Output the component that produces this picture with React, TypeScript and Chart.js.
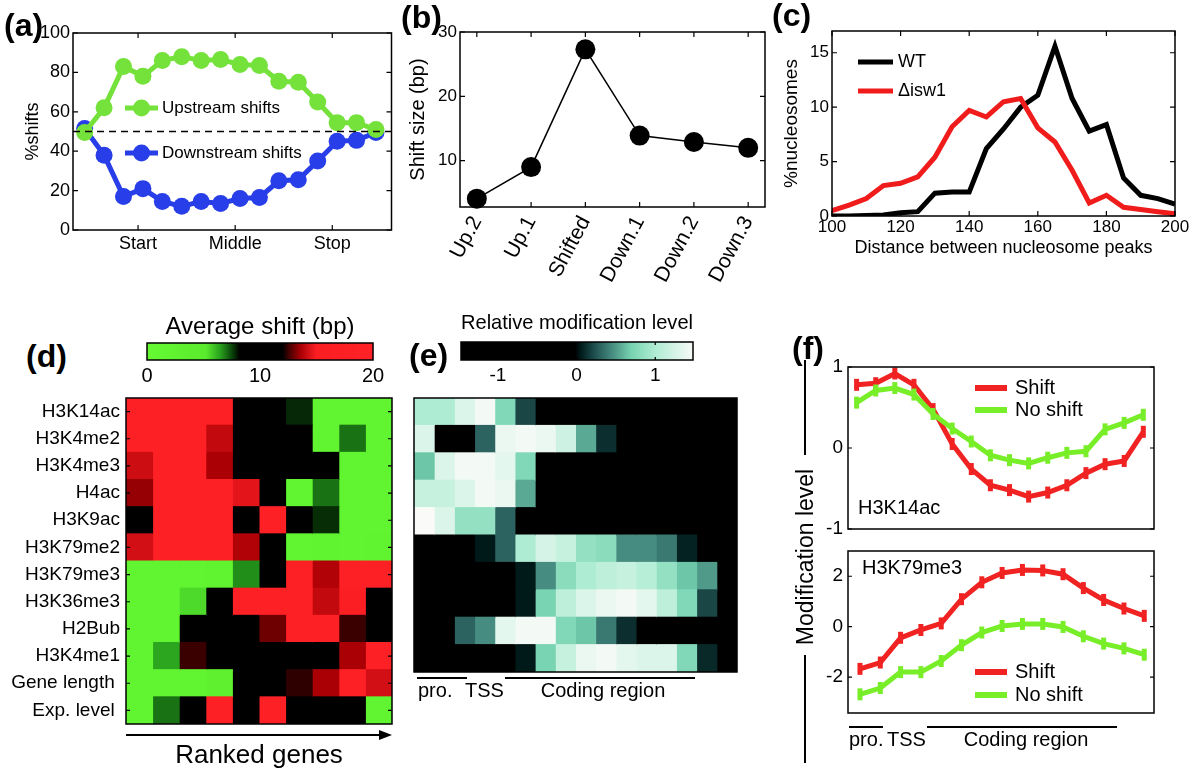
import React, { useEffect, useRef } from "react";
import { Chart, registerables } from "chart.js";

Chart.register(...registerables);

const FONT = '"Liberation Sans", Arial, Helvetica, sans-serif';
Chart.defaults.font.family = FONT;
Chart.defaults.color = "#000";

// ================= DATA =================
// (a) % shifts along the gene
const aBins = [1, 2, 3, 4, 5, 6, 7, 8, 9, 10, 11, 12, 13, 14, 15, 16];
const aUpstream = [49.5, 62, 83, 78, 86, 88, 86, 86.5, 84, 83.5, 75.5, 75, 65, 54.5, 54.5, 51];
const aDownstream = [51.5, 38, 17, 21, 14.5, 12, 14.5, 13.5, 16, 16.5, 25, 25.5, 35, 45, 45.5, 49.5];
const aTickLabels = ["Start", "Middle", "Stop"];
const aTickPositions = [3.75, 8.75, 13.75];
const aYTicks = [0, 20, 40, 60, 80, 100];
const aReference = 50;

// (b) shift size
const bCategories = ["Up.2", "Up.1", "Shifted", "Down.1", "Down.2", "Down.3"];
const bShiftSize = [4.1, 9, 27.3, 13.9, 12.9, 12.0];
const bYTicks = [10, 20, 30];

// (c) distance between nucleosome peaks
const cDistance = [100, 105, 110, 115, 120, 125, 130, 135, 140, 145, 150, 155, 160, 165, 170, 175, 180, 185, 190, 195, 200];
const cWT = [0, 0, 0.05, 0.1, 0.3, 0.4, 2.1, 2.2, 2.2, 6.2, 8.0, 10.0, 11.1, 15.6, 10.8, 7.8, 8.4, 3.5, 1.9, 1.6, 1.1];
const cIsw1 = [0.5, 1.0, 1.6, 2.8, 3.0, 3.6, 5.4, 8.2, 9.7, 9.1, 10.5, 10.8, 8.1, 6.8, 4.2, 1.2, 1.9, 0.8, 0.6, 0.4, 0.2];
const cXTicks = [100, 120, 140, 160, 180, 200];
const cYTicks = [0, 5, 10, 15];

// (d) average shift heatmap
const dMarks = ["H3K14ac", "H3K4me2", "H3K4me3", "H4ac", "H3K9ac", "H3K79me2", "H3K79me3", "H3K36me3", "H2Bub", "H3K4me1", "Gene length ", "Exp. level "];
const dRankBins = [0, 1, 2, 3, 4, 5, 6, 7, 8, 9];
const dShift = [
  [18, 18, 18, 18, 10, 10, 7.8, 2, 2, 2],
  [18, 18, 18, 14, 10, 10, 10, 2, 7.0, 2],
  [14.2, 18, 18, 13.6, 10, 10, 10, 10, 2, 2],
  [13.4, 18, 18, 18, 14.6, 10, 2, 7.0, 2, 2],
  [10, 18, 18, 18, 10, 18, 10, 7.75, 2, 2],
  [14.3, 18, 18, 18, 13.7, 10, 2, 2.5, 2, 2.5],
  [2, 2, 2, 2.5, 6.7, 10, 18, 13.7, 18, 18],
  [2, 2, 5.5, 10, 18, 18, 18, 14, 16, 10],
  [2, 2, 10, 10, 10, 13.0, 18, 18, 12.5, 10],
  [2, 6.4, 12.5, 10, 10, 10, 10, 10, 13.6, 18],
  [2, 2, 2, 3, 10, 10, 12.4, 13.6, 18, 14.3],
  [2, 7.0, 10, 18, 10, 18, 10, 10, 10, 2],
];
const dColorTicks = [0, 10, 20];

// (e) relative modification level heatmap
const eColumns = [0, 1, 2, 3, 4, 5, 6, 7, 8, 9, 10, 11, 12, 13, 14, 15];
const eRows = [1, 2, 3, 4, 5, 6, 7, 8, 9, 10];
const eLevels = [
  [1.0, 1.0, 1.3, 1.45, 0.75, 0.2, -1, -1, -1, -1, -1, -1, -1, -1, -1, -1],
  [1.3, -1, -1, 0.3, 1.4, 1.45, 1.4, 1.2, 0.55, 0.12, -1, -1, -1, -1, -1, -1],
  [0.65, 1.3, 1.45, 1.45, 1.35, 0.75, -1, -1, -1, -1, -1, -1, -1, -1, -1, -1],
  [1.15, 1.15, 1.3, 1.45, 1.4, 0.55, -1, -1, -1, -1, -1, -1, -1, -1, -1, -1],
  [1.5, 1.3, 0.85, 0.85, 0.3, -1, -1, -1, -1, -1, -1, -1, -1, -1, -1, -1],
  [-1, -1, -1, 0.05, 0.3, 1.0, 1.25, 1.15, 0.85, 0.8, 0.45, 0.45, 0.38, 0.08, -1, -1],
  [-1, -1, -1, -1, -1, 0.05, 0.45, 0.8, 1.0, 1.1, 1.15, 1.05, 0.85, 0.65, 0.5, -1],
  [-1, -1, -1, -1, -1, 0.05, 0.7, 1.1, 1.3, 1.4, 1.45, 1.35, 1.1, 0.75, 0.2, -1],
  [-1, -1, 0.3, 0.45, 1.35, 1.45, 1.45, 0.75, 0.65, 0.38, 0.12, -1, -1, -1, -1, -1],
  [-1, -1, -1, -1, -1, 0.05, 0.7, 1.15, 1.4, 1.45, 1.35, 1.3, 1.3, 0.75, 0.1, -1],
];
const eColorTicks = [-1, 0, 1];

// (f) modification level profiles
const fTopBins = [0, 1, 2, 3, 4, 5, 6, 7, 8, 9, 10, 11, 12, 13, 14, 15];
const fTopShift = [0.78, 0.8, 0.92, 0.78, 0.48, 0.05, -0.26, -0.46, -0.52, -0.6, -0.55, -0.46, -0.31, -0.2, -0.16, 0.2];
const fTopNoShift = [0.56, 0.71, 0.74, 0.66, 0.42, 0.24, 0.08, -0.09, -0.15, -0.19, -0.12, -0.06, -0.04, 0.23, 0.31, 0.41];
const fTopYTicks = [-1, 0, 1];
const fBotBins = [0, 1, 2, 3, 4, 5, 6, 7, 8, 9, 10, 11, 12, 13, 14];
const fBotShift = [-1.67, -1.42, -0.44, -0.13, 0.13, 1.09, 1.76, 2.13, 2.25, 2.23, 2.08, 1.53, 1.06, 0.72, 0.43];
const fBotNoShift = [-2.68, -2.43, -1.8, -1.8, -1.36, -0.73, -0.23, 0.03, 0.11, 0.11, -0.01, -0.38, -0.67, -0.86, -1.11];
const fBotYTicks = [-2, 0, 2];

// ================= STYLES =================
const GREEN_A = "rgb(116,226,58)";
const BLUE_A = "rgb(40,62,232)";
const RED_C = "rgb(240,28,28)";
const RED_F = "rgb(240,34,34)";
const GREEN_F = "rgb(120,238,40)";

type Rgb = [number, number, number];
const dStops: [number, Rgb][] = [
  [0, [102, 250, 51]],
  [5.2, [90, 235, 45]],
  [6.5, [40, 160, 30]],
  [7.5, [10, 70, 10]],
  [8.2, [0, 0, 0]],
  [12.0, [0, 0, 0]],
  [12.6, [70, 0, 0]],
  [13.6, [170, 0, 5]],
  [15.0, [250, 30, 35]],
  [20, [255, 35, 40]],
];
const eStops: [number, Rgb][] = [
  [-1.5, [0, 0, 0]],
  [-0.02, [0, 0, 0]],
  [0.05, [0, 25, 25]],
  [0.25, [35, 85, 85]],
  [0.45, [70, 140, 128]],
  [0.7, [120, 212, 178]],
  [1.0, [175, 236, 212]],
  [1.5, [250, 251, 249]],
];

function interpColor(stops: [number, Rgb][], v: number): string {
  const f = (c: Rgb) => `rgb(${Math.round(c[0])},${Math.round(c[1])},${Math.round(c[2])})`;
  if (v <= stops[0][0]) return f(stops[0][1]);
  for (let i = 1; i < stops.length; i++) {
    const [v1, c1] = stops[i];
    const [v0, c0] = stops[i - 1];
    if (v <= v1) {
      const t = (v - v0) / (v1 - v0);
      return f([c0[0] + (c1[0] - c0[0]) * t, c0[1] + (c1[1] - c0[1]) * t, c0[2] + (c1[2] - c0[2]) * t]);
    }
  }
  return f(stops[stops.length - 1][1]);
}
const colorD = (v: number) => interpColor(dStops, v);
const colorE = (v: number) => interpColor(eStops, v);

// ================= PLUGINS =================
function makeFrame(cfg: { xTicks?: boolean; yTicks?: boolean; len?: number; width?: number }) {
  return {
    id: "frame",
    afterDatasetsDraw(chart: any) {
      const { ctx, chartArea: a } = chart;
      const len = cfg.len ?? 5;
      ctx.save();
      ctx.strokeStyle = "#000";
      ctx.lineWidth = cfg.width ?? 1.5;
      ctx.strokeRect(a.left, a.top, a.right - a.left, a.bottom - a.top);
      ctx.lineWidth = 1.2;
      ctx.beginPath();
      if (cfg.xTicks) {
        const s = chart.scales.x;
        s.ticks.forEach((_t: any, i: number) => {
          const p = s.getPixelForTick(i);
          ctx.moveTo(p, a.bottom);
          ctx.lineTo(p, a.bottom - len);
          ctx.moveTo(p, a.top);
          ctx.lineTo(p, a.top + len);
        });
      }
      if (cfg.yTicks) {
        const s = chart.scales.y;
        s.ticks.forEach((_t: any, i: number) => {
          const p = s.getPixelForTick(i);
          ctx.moveTo(a.left, p);
          ctx.lineTo(a.left + len, p);
          ctx.moveTo(a.right, p);
          ctx.lineTo(a.right - len, p);
        });
      }
      ctx.stroke();
      ctx.restore();
    },
  };
}

type Decor = {
  lines?: { x1: number; y1: number; x2: number; y2: number; width?: number; arrow?: number }[];
  texts?: { text: string; x: number; y: number; size: number; align?: CanvasTextAlign }[];
  legend?: { idx: number[]; x: number; y: number; dy: number; len: number; gap: number; size: number; lineWidth: number; radius?: number };
  refLine?: { value: number };
};

function makeDecor(cfg: Decor) {
  return {
    id: "decor",
    afterDraw(chart: any) {
      const { ctx, chartArea: a } = chart;
      ctx.save();
      if (cfg.refLine) {
        const py = chart.scales.y.getPixelForValue(cfg.refLine.value);
        ctx.strokeStyle = "#000";
        ctx.lineWidth = 1.5;
        ctx.setLineDash([7, 5]);
        ctx.beginPath();
        ctx.moveTo(a.left, py);
        ctx.lineTo(a.right, py);
        ctx.stroke();
        ctx.setLineDash([]);
      }
      (cfg.lines || []).forEach((l) => {
        ctx.strokeStyle = "#000";
        ctx.lineWidth = l.width ?? 1.5;
        ctx.beginPath();
        ctx.moveTo(a.left + l.x1, a.top + l.y1);
        ctx.lineTo(a.left + l.x2 - (l.arrow ? l.arrow * 0.5 : 0), a.top + l.y2);
        ctx.stroke();
        if (l.arrow) {
          const tx = a.left + l.x2;
          const ty = a.top + l.y2;
          ctx.fillStyle = "#000";
          ctx.beginPath();
          ctx.moveTo(tx, ty);
          ctx.lineTo(tx - l.arrow, ty - l.arrow * 0.38);
          ctx.lineTo(tx - l.arrow, ty + l.arrow * 0.38);
          ctx.closePath();
          ctx.fill();
        }
      });
      (cfg.texts || []).forEach((t) => {
        ctx.font = `${t.size}px ${FONT}`;
        ctx.fillStyle = "#000";
        ctx.textAlign = t.align || "left";
        ctx.textBaseline = "middle";
        ctx.fillText(t.text, a.left + t.x, a.top + t.y);
      });
      const lg = cfg.legend;
      if (lg) {
        lg.idx.forEach((di, i) => {
          const ds = chart.data.datasets[di];
          const y = a.top + lg.y + i * lg.dy;
          const x0 = a.left + lg.x;
          const x1 = x0 + lg.len;
          ctx.strokeStyle = ds.borderColor;
          ctx.lineWidth = lg.lineWidth;
          ctx.lineCap = "butt";
          ctx.beginPath();
          ctx.moveTo(x0, y);
          ctx.lineTo(x1, y);
          ctx.stroke();
          if (lg.radius) {
            ctx.fillStyle = ds.borderColor;
            ctx.beginPath();
            ctx.arc((x0 + x1) / 2, y, lg.radius, 0, Math.PI * 2);
            ctx.fill();
          }
          ctx.font = `${lg.size}px ${FONT}`;
          ctx.fillStyle = "#000";
          ctx.textAlign = "left";
          ctx.textBaseline = "middle";
          ctx.fillText(ds.label, x1 + lg.gap, y);
        });
      }
      ctx.restore();
    },
  };
}

function makeColorbar(colorFn: (v: number) => string) {
  return {
    id: "colorbar",
    beforeDatasetsDraw(chart: any) {
      const { ctx, chartArea: a } = chart;
      const s = chart.scales.x;
      ctx.save();
      for (let px = Math.floor(a.left); px < Math.ceil(a.right); px++) {
        ctx.fillStyle = colorFn(s.getValueForPixel(px + 0.5));
        ctx.fillRect(px, a.top, 1.2, a.bottom - a.top);
      }
      ctx.restore();
    },
  };
}

// ================= SCALE HELPERS =================
function fixedY(width: number, min: number, max: number, ticks: number[] | null, size: number, pad: number, title?: { text: string; size: number; pad: number }) {
  return {
    type: "linear",
    min,
    max,
    grid: { display: false, drawTicks: false },
    border: { display: false },
    ticks: { font: { size }, padding: pad, color: "#000" },
    title: title
      ? { display: true, text: title.text, font: { size: title.size }, padding: { top: title.pad, bottom: 0 }, color: "#000" }
      : { display: false },
    afterBuildTicks: (s: any) => {
      if (ticks) s.ticks = ticks.map((v) => ({ value: v }));
    },
    afterFit: (s: any) => {
      s.width = width;
      s.paddingTop = 0;
      s.paddingBottom = 0;
      s.paddingLeft = 0;
      s.paddingRight = 0;
    },
  };
}

function fixedX(height: number, min: number, max: number, ticks: number[] | null, size: number, pad: number, extra: any = {}) {
  return {
    type: "linear",
    min,
    max,
    grid: { display: false, drawTicks: false },
    border: { display: false },
    ...extra,
    ticks: { font: { size }, padding: pad, color: "#000", autoSkip: false, ...(extra.ticks || {}) },
    afterBuildTicks: (s: any) => {
      if (ticks) s.ticks = ticks.map((v) => ({ value: v }));
    },
    afterFit: (s: any) => {
      s.height = height;
      s.paddingTop = 0;
      s.paddingBottom = 0;
      s.paddingLeft = 0;
      s.paddingRight = 0;
    },
  };
}

const baseOpts = {
  animation: false,
  responsive: false,
  maintainAspectRatio: false,
  events: [],
};
const noLegend = { legend: { display: false }, tooltip: { enabled: false }, title: { display: false } };

// ================= CHART CONFIGS =================
const makeA = () => ({
  type: "line",
  data: {
    datasets: [
      {
        label: "Upstream shifts",
        data: aBins.map((x, i) => ({ x, y: aUpstream[i] })),
        borderColor: GREEN_A,
        backgroundColor: GREEN_A,
        pointBackgroundColor: GREEN_A,
        borderWidth: 5,
        pointRadius: 8.5,
        pointBorderWidth: 0,
        order: 0,
        clip: false,
      },
      {
        label: "Downstream shifts",
        data: aBins.map((x, i) => ({ x, y: aDownstream[i] })),
        borderColor: BLUE_A,
        backgroundColor: BLUE_A,
        pointBackgroundColor: BLUE_A,
        borderWidth: 5,
        pointRadius: 8.5,
        pointBorderWidth: 0,
        order: 1,
        clip: false,
      },
    ],
  },
  options: {
    ...baseOpts,
    layout: { padding: { top: 33, right: 5, left: 0, bottom: 0 } },
    plugins: noLegend,
    scales: {
      x: fixedX(30, 0.4, 16.8, aTickPositions, 18, 3, { ticks: { callback: (_v: any, i: number) => aTickLabels[i], maxRotation: 0, minRotation: 0 } }),
      y: fixedY(73, 0, 100, aYTicks, 18, 3, { text: "%shifts", size: 18, pad: 22 }),
    },
  },
  plugins: [
    makeFrame({ xTicks: true, yTicks: true }),
    makeDecor({
      refLine: { value: aReference },
      legend: { idx: [0, 1], x: 52, y: 75, dy: 45, len: 33, gap: 4, size: 17, lineWidth: 5, radius: 8.5 },
    }),
  ],
});

const makeB = () => ({
  type: "line",
  data: {
    datasets: [
      {
        label: "Shift size (bp)",
        data: bCategories.map((_c, i) => ({ x: i, y: bShiftSize[i] })),
        borderColor: "#000",
        backgroundColor: "#000",
        pointBackgroundColor: "#000",
        borderWidth: 1.5,
        pointRadius: 10,
        pointBorderWidth: 0,
        clip: false,
      },
    ],
  },
  options: {
    ...baseOpts,
    layout: { padding: { top: 32, right: 15, left: 0, bottom: 0 } },
    plugins: noLegend,
    scales: {
      x: fixedX(93, -0.31, 5.31, bCategories.map((_c, i) => i), 21, 5, {
        ticks: { callback: (v: any) => bCategories[v as number], maxRotation: 62, minRotation: 62 },
      }),
      y: fixedY(80, 2.8, 30, bYTicks, 17, 3, { text: "Shift size (bp)", size: 20, pad: 26 }),
    },
  },
  plugins: [makeFrame({ xTicks: true, yTicks: true })],
});

const makeC = () => ({
  type: "line",
  data: {
    datasets: [
      {
        label: "WT",
        data: cDistance.map((x, i) => ({ x, y: cWT[i] })),
        borderColor: "#000",
        borderWidth: 5,
        pointRadius: 0,
        borderJoinStyle: "miter",
        order: 1,
      },
      {
        label: "\u0394isw1",
        data: cDistance.map((x, i) => ({ x, y: cIsw1[i] })),
        borderColor: RED_C,
        borderWidth: 5,
        pointRadius: 0,
        borderJoinStyle: "miter",
        order: 0,
      },
    ],
  },
  options: {
    ...baseOpts,
    layout: { padding: { top: 31, right: 25, left: 0, bottom: 0 } },
    plugins: noLegend,
    scales: {
      x: fixedX(84, 100, 200, cXTicks, 17, 1, {
        title: { display: true, text: "Distance between nucleosome peaks", font: { size: 18 }, padding: { top: 0, bottom: 41 }, color: "#000" },
      }),
      y: fixedY(72, 0, 17, cYTicks, 17, 3, { text: "%nucleosomes", size: 19, pad: 20 }),
    },
  },
  plugins: [
    makeFrame({ xTicks: true, yTicks: true }),
    makeDecor({ legend: { idx: [0, 1], x: 26, y: 31, dy: 29, len: 35, gap: 5, size: 18, lineWidth: 5 } }),
  ],
});

const makeDColorbar = () => ({
  type: "line",
  data: { datasets: [] },
  options: {
    ...baseOpts,
    layout: { padding: { top: 0, right: 27, left: 47, bottom: 0 } },
    plugins: {
      legend: { display: false },
      tooltip: { enabled: false },
      title: { display: true, text: "Average shift (bp)", font: { size: 24, weight: "normal" }, padding: { top: 7.6, bottom: 1.6 }, color: "#000" },
    },
    scales: {
      x: fixedX(30, 0, 20, dColorTicks, 20, 4),
      y: { display: false, min: 0, max: 1 },
    },
  },
  plugins: [makeColorbar(colorD), makeFrame({ xTicks: false })],
});

const makeDHeat = () => ({
  type: "bar",
  data: {
    labels: dMarks,
    datasets: dRankBins.map((bin) => ({
      label: `rank ${bin + 1}`,
      data: dMarks.map(() => [bin, bin + 1]),
      backgroundColor: dShift.map((row) => colorD(row[bin])),
      borderWidth: 0,
      borderSkipped: false,
      barPercentage: 1,
      categoryPercentage: 1,
      grouped: false,
      inflateAmount: 0.5,
    })),
  },
  options: {
    ...baseOpts,
    indexAxis: "y",
    layout: { padding: { top: 18, right: 8, left: 0, bottom: 0 } },
    plugins: noLegend,
    scales: {
      x: fixedX(47, 0, 10, null, 10, 0, {
        ticks: { display: false },
        title: { display: true, text: "Ranked genes", font: { size: 26 }, padding: { top: 0, bottom: 0 }, color: "#000" },
      }),
      y: {
        type: "category",
        grid: { display: false, drawTicks: false },
        border: { display: false },
        ticks: { font: { size: 19 }, padding: 6, color: "#000", autoSkip: false },
        afterFit: (s: any) => {
          s.width = 126;
          s.paddingTop = 0;
          s.paddingBottom = 0;
        },
      },
    },
  },
  plugins: [
    makeFrame({ yTicks: true, len: 4 }),
    makeDecor({ lines: [{ x1: 0, y1: 337, x2: 266, y2: 337, width: 2, arrow: 13 }] }),
  ],
});

const makeEColorbar = () => ({
  type: "line",
  data: { datasets: [] },
  options: {
    ...baseOpts,
    layout: { padding: { top: 0, right: 67, left: 61, bottom: 0 } },
    plugins: {
      legend: { display: false },
      tooltip: { enabled: false },
      title: { display: true, text: "Relative modification level", font: { size: 21, weight: "normal" }, padding: { top: 5.4, bottom: 6.4 }, color: "#000" },
    },
    scales: {
      x: fixedX(30, -1.47, 1.48, eColorTicks, 19, 4),
      y: { display: false, min: 0, max: 1 },
    },
  },
  plugins: [makeColorbar(colorE), makeFrame({ xTicks: true, len: 3 })],
});

const makeEHeat = () => ({
  type: "bar",
  data: {
    labels: eRows,
    datasets: eColumns.map((col) => ({
      label: `column ${col + 1}`,
      data: eRows.map(() => [col, col + 1]),
      backgroundColor: eLevels.map((row) => colorE(row[col])),
      borderWidth: 0,
      borderSkipped: false,
      barPercentage: 1,
      categoryPercentage: 1,
      grouped: false,
      inflateAmount: 0.5,
    })),
  },
  options: {
    ...baseOpts,
    indexAxis: "y",
    layout: { padding: { top: 18, right: 23, left: 14, bottom: 99 } },
    plugins: noLegend,
    scales: {
      x: { type: "linear", display: false, min: 0, max: 16 },
      y: { type: "category", display: false },
    },
  },
  plugins: [
    makeFrame({}),
    makeDecor({
      lines: [
        { x1: 3, y1: 280, x2: 53, y2: 280, width: 2 },
        { x1: 91, y1: 280, x2: 281, y2: 280, width: 2 },
      ],
      texts: [
        { text: "pro.", x: 4, y: 293, size: 20 },
        { text: "TSS", x: 51, y: 293, size: 20 },
        { text: "Coding region", x: 189, y: 293, size: 20, align: "center" },
      ],
    }),
  ],
});

const fDataset = (label: string, color: string, xs: number[], ys: number[], order: number) => ({
  label,
  data: xs.map((x, i) => ({ x, y: ys[i] })),
  borderColor: color,
  backgroundColor: color,
  pointBorderColor: color,
  borderWidth: 5,
  pointStyle: "line",
  pointRotation: 90,
  pointRadius: 6,
  pointBorderWidth: 5,
  order,
  clip: false,
});

const makeFTop = () => ({
  type: "line",
  data: {
    datasets: [
      fDataset("Shift", RED_F, fTopBins, fTopShift, 1),
      fDataset("No shift", GREEN_F, fTopBins, fTopNoShift, 0),
    ],
  },
  options: {
    ...baseOpts,
    layout: { padding: { top: 37, right: 46, left: 0, bottom: 7 } },
    plugins: noLegend,
    scales: {
      x: { type: "linear", display: false, min: -0.45, max: 15.56 },
      y: fixedY(88, -1, 1, fTopYTicks, 19, 5),
    },
  },
  plugins: [
    makeFrame({ yTicks: true, len: 4 }),
    makeDecor({
      legend: { idx: [0, 1], x: 127, y: 21, dy: 22, len: 32, gap: 8, size: 20, lineWidth: 6 },
      texts: [{ text: "H3K14ac", x: 10, y: 141, size: 20 }],
    }),
  ],
});

const makeFBot = () => ({
  type: "line",
  data: {
    datasets: [
      fDataset("Shift", RED_F, fBotBins, fBotShift, 1),
      fDataset("No shift", GREEN_F, fBotBins, fBotNoShift, 0),
    ],
  },
  options: {
    ...baseOpts,
    layout: { padding: { top: 3, right: 46, left: 0, bottom: 58 } },
    plugins: noLegend,
    scales: {
      x: { type: "linear", display: false, min: -0.59, max: 14.48 },
      y: fixedY(88, -3.42, 3.0, fBotYTicks, 19, 5),
    },
  },
  plugins: [
    makeFrame({ yTicks: true, len: 4 }),
    makeDecor({
      legend: { idx: [0, 1], x: 127, y: 121, dy: 23, len: 32, gap: 8, size: 20, lineWidth: 6 },
      texts: [
        { text: "H3K79me3", x: 14, y: 17, size: 20 },
        { text: "pro.", x: 1, y: 189, size: 20 },
        { text: "TSS", x: 39, y: 189, size: 20 },
        { text: "Coding region", x: 178, y: 189, size: 20, align: "center" },
      ],
      lines: [
        { x1: 1, y1: 176, x2: 35, y2: 176, width: 2 },
        { x1: 79, y1: 176, x2: 269, y2: 176, width: 2 },
      ],
    }),
  ],
});

// ================= COMPONENTS =================
function Panel({ x, y, w, h, make }: { x: number; y: number; w: number; h: number; make: () => any }) {
  const ref = useRef<HTMLCanvasElement | null>(null);
  useEffect(() => {
    if (!ref.current) return;
    const chart = new Chart(ref.current, make());
    return () => chart.destroy();
  }, [make]);
  return <canvas ref={ref} width={w} height={h} style={{ position: "absolute", left: x, top: y, width: w, height: h }} />;
}

function PanelLabel({ text, x, y }: { text: string; x: number; y: number }) {
  return (
    <div style={{ position: "absolute", left: x, top: y, fontSize: 32, fontWeight: "bold", lineHeight: "32px", fontFamily: FONT, color: "#000", whiteSpace: "nowrap" }}>
      {text}
    </div>
  );
}

export default function App() {
  return (
    <div style={{ position: "absolute", left: 0, top: 0, width: 1200, height: 771, background: "#fff", overflow: "hidden", fontFamily: FONT }}>
      <Panel x={0} y={0} w={400} h={260} make={makeA} />
      <Panel x={380} y={0} w={400} h={300} make={makeB} />
      <Panel x={760} y={0} w={440} h={300} make={makeC} />
      <Panel x={100} y={305} w={300} h={85} make={makeDColorbar} />
      <Panel x={0} y={380} w={400} h={391} make={makeDHeat} />
      <Panel x={400} y={305} w={360} h={85} make={makeEColorbar} />
      <Panel x={400} y={380} w={360} h={391} make={makeEHeat} />
      <Panel x={760} y={330} w={440} h={210} make={makeFTop} />
      <Panel x={760} y={540} w={440} h={231} make={makeFBot} />

      <PanelLabel text="(a)" x={4} y={9} />
      <PanelLabel text="(b)" x={401} y={1} />
      <PanelLabel text="(c)" x={772} y={-1} />
      <PanelLabel text="(d)" x={26} y={340} />
      <PanelLabel text="(e)" x={409} y={339} />
      <PanelLabel text="(f)" x={792} y={332} />

      <div style={{ position: "absolute", left: 804, top: 360, width: 1.5, height: 95, background: "#000" }} />
      <div style={{ position: "absolute", left: 804, top: 655, width: 1.5, height: 108, background: "#000" }} />
      <div
        style={{
          position: "absolute",
          left: 805,
          top: 557,
          transform: "translate(-50%, -50%) rotate(-90deg)",
          fontSize: 23,
          lineHeight: "23px",
          whiteSpace: "nowrap",
          color: "#000",
        }}
      >
        Modification level
      </div>
    </div>
  );
}
